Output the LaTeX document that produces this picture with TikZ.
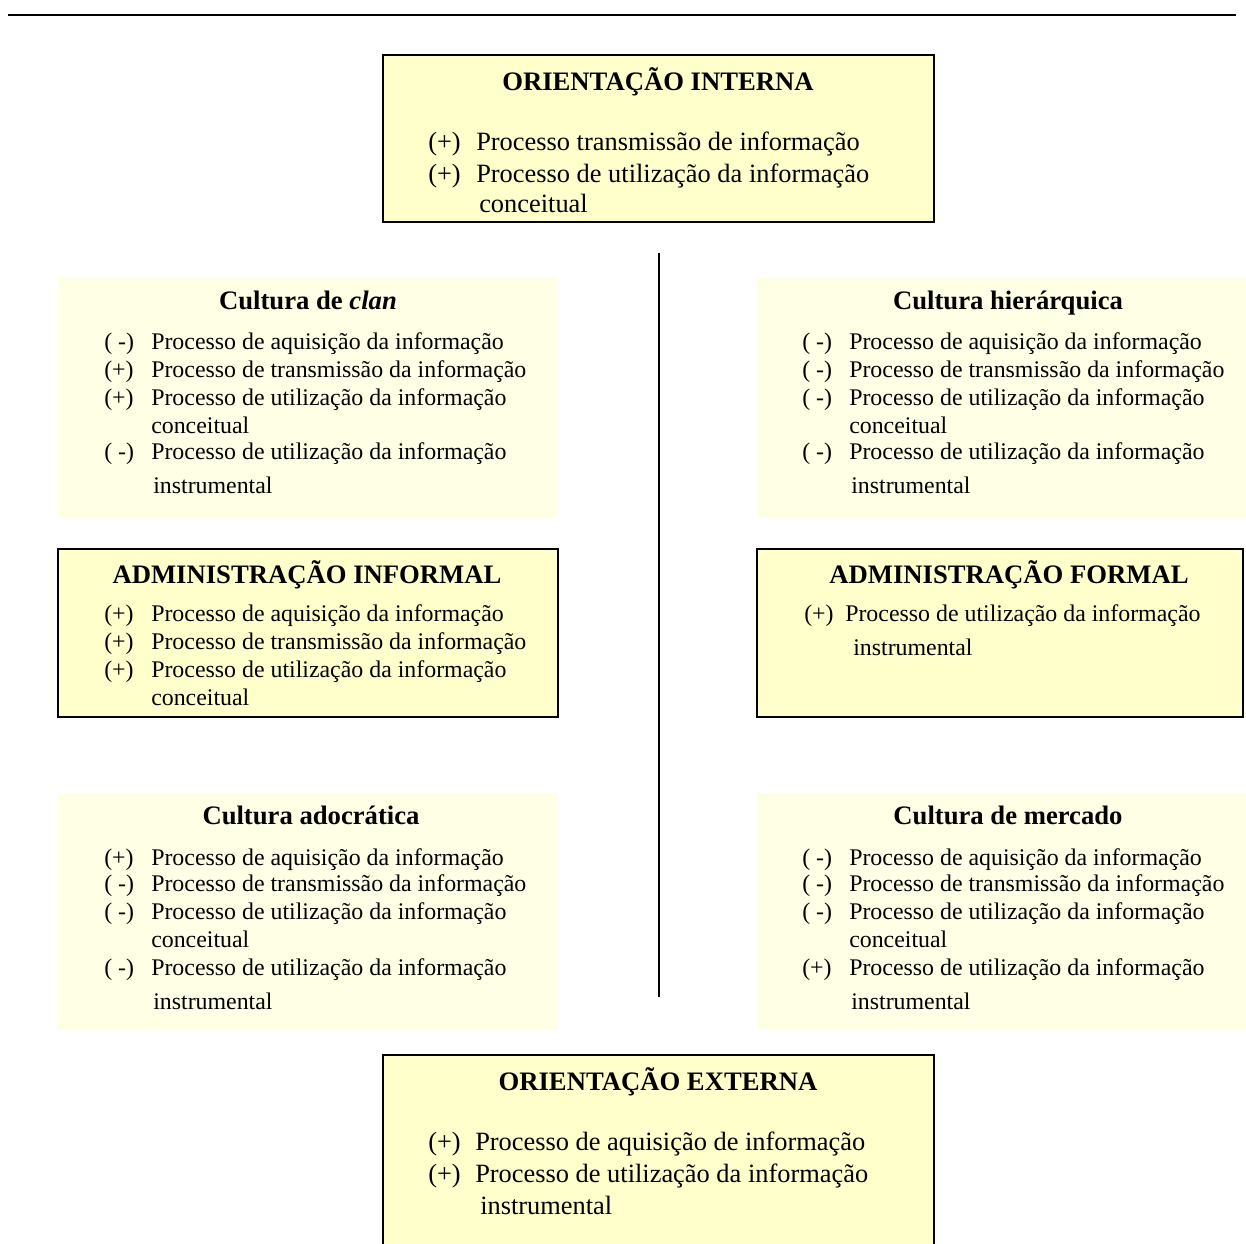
\documentclass[tikz,border=0pt]{standalone}
\usepackage{fontspec}
\setmainfont{Liberation Serif}
\definecolor{boxfill}{HTML}{FFFFCC}
\definecolor{palefill}{HTML}{FFFFE6}
\tikzset{
  bigbox/.style={draw=black, line width=1.5pt, fill=boxfill},
  palebox/.style={fill=palefill, draw=none},
  ttl/.style={anchor=mid, inner sep=0pt, yshift=-3.5pt, font=\fontsize{20}{22}\selectfont\bfseries},
  sttl/.style={anchor=mid, inner sep=0pt, yshift=-3.5pt, font=\fontsize{20}{22}\selectfont\bfseries},
  itm/.style={anchor=mid west, inner sep=0pt, yshift=-3.5pt, font=\fontsize{17.9}{20}\selectfont},
  bitm/.style={anchor=mid west, inner sep=0pt, yshift=-3.5pt, font=\fontsize{19.8}{22}\selectfont},
}
\begin{document}
\begin{tikzpicture}[x=0.75pt,y=-0.75pt]
\useasboundingbox (0,0) rectangle (1246,1244);
\clip (0,0) rectangle (1246,1244);
% top rule
\coordinate (tl) at (8,15);
\coordinate (tr) at (1236,15);
\draw[line width=2.2pt] (tl) -- (tr);
% vertical divider
\coordinate (vt) at (659,253);
\coordinate (vb) at (659,997);
\draw[line width=1.5pt] (vt) -- (vb);

% ORIENTACAO INTERNA
\draw[bigbox] (383,55) rectangle (934,222);
\node[ttl] (oi) at (658,83) {ORIENTAÇÃO INTERNA};
\node[bitm] (oi1m) at (428,143) {(+)};
\node[bitm] (oi1) at (476,143) {Processo transmissão de informação};
\node[bitm] (oi2m) at (428,175) {(+)};
\node[bitm] (oi2) at (476,175) {Processo de utilização da informação};
\node[bitm] (oi3) at (479,205) {conceitual};

% Cultura de clan
\fill[palebox] (58,277) rectangle (558,517);
\node[sttl] (cc) at (308,302) {Cultura de \textit{clan}};
\node[itm] (cc1m) at (104,342) {( -)};
\node[itm] (cc1) at (151,342) {Processo de aquisição da informação};
\node[itm] (cc2m) at (104,370) {(+)};
\node[itm] (cc2) at (151,370) {Processo de transmissão da informação};
\node[itm] (cc3m) at (104,398) {(+)};
\node[itm] (cc3) at (151,398) {Processo de utilização da informação};
\node[itm] (cc4) at (151,426) {conceitual};
\node[itm] (cc5m) at (104,452) {( -)};
\node[itm] (cc5) at (151,452) {Processo de utilização da informação};
\node[itm] (cc6) at (153,486) {instrumental};

% Cultura hierarquica
\fill[palebox] (757,277) rectangle (1246,517);
\node[sttl] (ch) at (1008,302) {Cultura hierárquica};
\node[itm] (ch1m) at (802,342) {( -)};
\node[itm] (ch1) at (849,342) {Processo de aquisição da informação};
\node[itm] (ch2m) at (802,370) {( -)};
\node[itm] (ch2) at (849,370) {Processo de transmissão da informação};
\node[itm] (ch3m) at (802,398) {( -)};
\node[itm] (ch3) at (849,398) {Processo de utilização da informação};
\node[itm] (ch4) at (849,426) {conceitual};
\node[itm] (ch5m) at (802,452) {( -)};
\node[itm] (ch5) at (849,452) {Processo de utilização da informação};
\node[itm] (ch6) at (851,486) {instrumental};

% ADMINISTRACAO INFORMAL
\draw[bigbox] (58,549) rectangle (558,717);
\node[ttl] (ai) at (307,576) {ADMINISTRAÇÃO INFORMAL};
\node[itm] (ai1m) at (104,614) {(+)};
\node[itm] (ai1) at (151,614) {Processo de aquisição da informação};
\node[itm] (ai2m) at (104,642) {(+)};
\node[itm] (ai2) at (151,642) {Processo de transmissão da informação};
\node[itm] (ai3m) at (104,670) {(+)};
\node[itm] (ai3) at (151,670) {Processo de utilização da informação};
\node[itm] (ai4) at (151,698) {conceitual};

% ADMINISTRACAO FORMAL
\draw[bigbox] (757,549) rectangle (1243,717);
\node[ttl] (af) at (1009,576) {ADMINISTRAÇÃO FORMAL};
\node[itm] (af1m) at (804,614) {(+)};
\node[itm] (af1) at (845,614) {Processo de utilização da informação};
\node[itm] (af2) at (853,648) {instrumental};

% Cultura adocratica
\fill[palebox] (58,793) rectangle (558,1030);
\node[sttl] (ca) at (311,817) {Cultura adocrática};
\node[itm] (ca1m) at (104,858) {(+)};
\node[itm] (ca1) at (151,858) {Processo de aquisição da informação};
\node[itm] (ca2m) at (104,884) {( -)};
\node[itm] (ca2) at (151,884) {Processo de transmissão da informação};
\node[itm] (ca3m) at (104,912) {( -)};
\node[itm] (ca3) at (151,912) {Processo de utilização da informação};
\node[itm] (ca4) at (151,940) {conceitual};
\node[itm] (ca5m) at (104,968) {( -)};
\node[itm] (ca5) at (151,968) {Processo de utilização da informação};
\node[itm] (ca6) at (153,1002) {instrumental};

% Cultura de mercado
\fill[palebox] (757,793) rectangle (1246,1030);
\node[sttl] (cm) at (1008,817) {Cultura de mercado};
\node[itm] (cm1m) at (802,858) {( -)};
\node[itm] (cm1) at (849,858) {Processo de aquisição da informação};
\node[itm] (cm2m) at (802,884) {( -)};
\node[itm] (cm2) at (849,884) {Processo de transmissão da informação};
\node[itm] (cm3m) at (802,912) {( -)};
\node[itm] (cm3) at (849,912) {Processo de utilização da informação};
\node[itm] (cm4) at (849,940) {conceitual};
\node[itm] (cm5m) at (802,968) {(+)};
\node[itm] (cm5) at (849,968) {Processo de utilização da informação};
\node[itm] (cm6) at (851,1002) {instrumental};

% ORIENTACAO EXTERNA
\draw[bigbox] (383,1055) rectangle (934,1270);
\node[ttl] (oe) at (658,1083) {ORIENTAÇÃO EXTERNA};
\node[bitm] (oe1m) at (428,1143) {(+)};
\node[bitm] (oe1) at (475,1143) {Processo de aquisição de informação};
\node[bitm] (oe2m) at (428,1175) {(+)};
\node[bitm] (oe2) at (475,1175) {Processo de utilização da informação};
\node[bitm] (oe3) at (480,1207) {instrumental};
\end{tikzpicture}
\end{document}
